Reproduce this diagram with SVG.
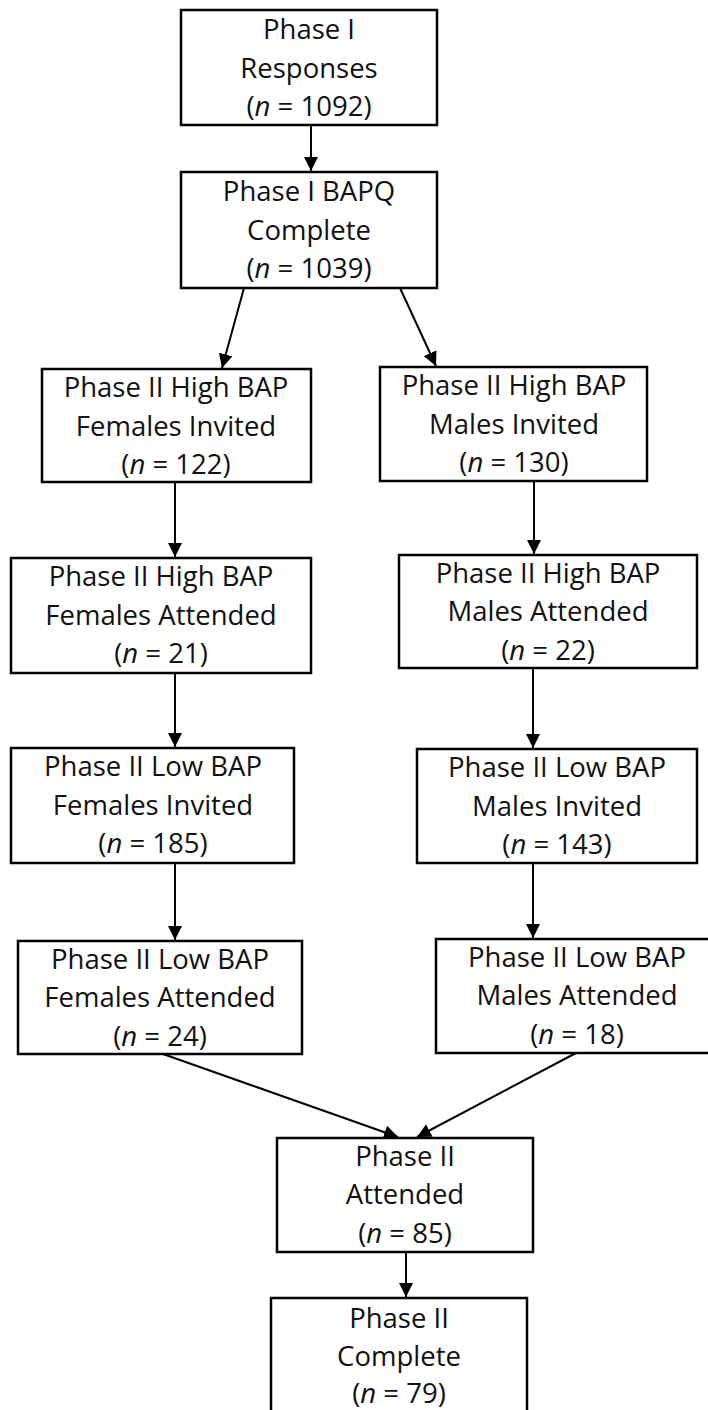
<svg xmlns="http://www.w3.org/2000/svg" width="708" height="1410" viewBox="0 0 708 1410">
<style>
.box{fill:#fff;stroke:#000;stroke-width:2.5}
.t{font-family:"Open Sans","Liberation Sans",sans-serif;font-size:27.5px;fill:#111;text-anchor:middle}
.i{font-style:italic}
.c{stroke:#000;stroke-width:2;fill:none;marker-end:url(#ah)}
</style>
<defs>
<marker id="ah" markerUnits="userSpaceOnUse" markerWidth="15" markerHeight="15" refX="14" refY="7" orient="auto">
<path d="M0,0 L14,7 L0,14 z" fill="#000"/>
</marker>
</defs>
<rect width="708" height="1410" fill="#fff"/>
<g id="connectors">
<line class="c" x1="311" y1="125" x2="311" y2="171"/>
<line class="c" x1="244" y1="288" x2="222" y2="368"/>
<line class="c" x1="400" y1="288" x2="436" y2="366"/>
<line class="c" x1="175" y1="482" x2="175" y2="557"/>
<line class="c" x1="534" y1="481" x2="534" y2="554"/>
<line class="c" x1="175" y1="673" x2="175" y2="747"/>
<line class="c" x1="533" y1="668" x2="533" y2="748"/>
<line class="c" x1="175" y1="863" x2="175" y2="940"/>
<line class="c" x1="533" y1="863" x2="533" y2="938"/>
<line class="c" x1="163" y1="1054" x2="398" y2="1137"/>
<line class="c" x1="576" y1="1053" x2="417" y2="1137"/>
<line class="c" x1="406" y1="1252" x2="406" y2="1297"/>
</g>
<g id="n1">
<rect class="box" x="181" y="10" width="256" height="115"/>
<text class="t" x="309" y="39">Phase I</text>
<text class="t" x="309" y="78">Responses</text>
<text class="t" x="309" y="116">(<tspan class="i">n</tspan> = 1092)</text>
</g>
<g id="n2">
<rect class="box" x="181" y="172" width="256" height="116"/>
<text class="t" x="309" y="201">Phase I BAPQ</text>
<text class="t" x="309" y="240">Complete</text>
<text class="t" x="309" y="278">(<tspan class="i">n</tspan> = 1039)</text>
</g>
<g id="n3">
<rect class="box" x="42" y="369" width="269" height="113"/>
<text class="t" x="176" y="397">Phase II High BAP</text>
<text class="t" x="176" y="436">Females Invited</text>
<text class="t" x="176" y="474">(<tspan class="i">n</tspan> = 122)</text>
</g>
<g id="n4">
<rect class="box" x="380" y="367" width="267" height="114"/>
<text class="t" x="514" y="395">Phase II High BAP</text>
<text class="t" x="514" y="434">Males Invited</text>
<text class="t" x="514" y="472">(<tspan class="i">n</tspan> = 130)</text>
</g>
<g id="n5">
<rect class="box" x="11" y="558" width="300" height="115"/>
<text class="t" x="161" y="586">Phase II High BAP</text>
<text class="t" x="161" y="625">Females Attended</text>
<text class="t" x="161" y="663">(<tspan class="i">n</tspan> = 21)</text>
</g>
<g id="n6">
<rect class="box" x="399" y="555" width="298" height="113"/>
<text class="t" x="548" y="583">Phase II High BAP</text>
<text class="t" x="548" y="621">Males Attended</text>
<text class="t" x="548" y="660">(<tspan class="i">n</tspan> = 22)</text>
</g>
<g id="n7">
<rect class="box" x="11" y="748" width="283" height="115"/>
<text class="t" x="153" y="776">Phase II Low BAP</text>
<text class="t" x="153" y="815">Females Invited</text>
<text class="t" x="153" y="853">(<tspan class="i">n</tspan> = 185)</text>
</g>
<g id="n8">
<rect class="box" x="417" y="749" width="280" height="114"/>
<text class="t" x="557" y="777">Phase II Low BAP</text>
<text class="t" x="557" y="816">Males Invited</text>
<text class="t" x="557" y="854">(<tspan class="i">n</tspan> = 143)</text>
</g>
<g id="n9">
<rect class="box" x="18" y="941" width="284" height="113"/>
<text class="t" x="160" y="969">Phase II Low BAP</text>
<text class="t" x="160" y="1007">Females Attended</text>
<text class="t" x="160" y="1046">(<tspan class="i">n</tspan> = 24)</text>
</g>
<g id="n10">
<rect class="box" x="436" y="939" width="282" height="114"/>
<text class="t" x="577" y="967">Phase II Low BAP</text>
<text class="t" x="577" y="1005">Males Attended</text>
<text class="t" x="577" y="1044">(<tspan class="i">n</tspan> = 18)</text>
</g>
<g id="n11">
<rect class="box" x="277" y="1138" width="256" height="114"/>
<text class="t" x="405" y="1166">Phase II</text>
<text class="t" x="405" y="1204">Attended</text>
<text class="t" x="405" y="1243">(<tspan class="i">n</tspan> = 85)</text>
</g>
<g id="n12">
<rect class="box" x="271" y="1298" width="256" height="130"/>
<text class="t" x="399" y="1328">Phase II</text>
<text class="t" x="399" y="1366">Complete</text>
<text class="t" x="399" y="1403">(<tspan class="i">n</tspan> = 79)</text>
</g>
</svg>
